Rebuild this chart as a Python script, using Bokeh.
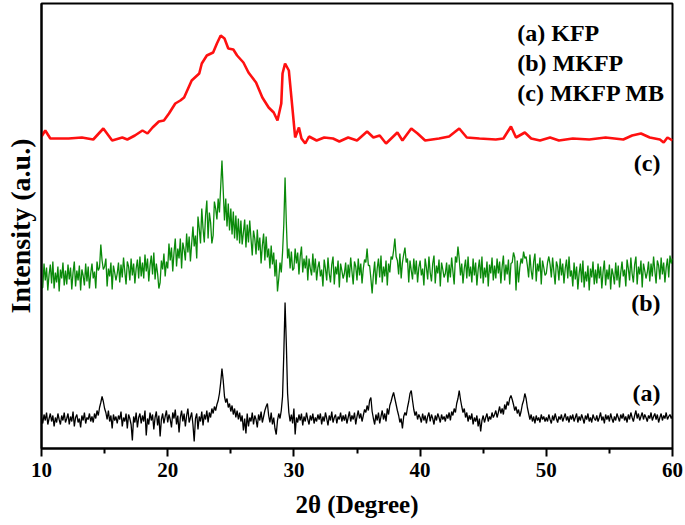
import numpy as np
from bokeh.plotting import figure
from bokeh.models import Range1d, FixedTicker, Label
from bokeh.embed import file_html
from bokeh.resources import INLINE

# ---------------- data ----------------
# noisy scans (a) KFP and (b) MKFP, one value every 0.1 degree from 10 to 60
scan_start = 10.0
scan_step = 0.1

kfp = [
    31, 25, 34, 28, 36, 24, 30, 35, 27, 33, 22, 31, 26, 35, 29, 24, 33, 28, 36, 26,
    30, 35, 24, 32, 27, 37, 22, 31, 34, 26, 30, 21, 33, 28, 36, 25, 31, 29, 35, 27,
    32, 26, 35, 30, 38, 33, 41, 46, 52, 47, 40, 36, 29, 38, 27, 33, 20, 34, 28, 32,
    25, 33, 29, 37, 22, 31, 27, 35, 20, 34, 30, 24, 8, 32, 26, 36, 21, 31, 35, 25,
    33, 27, 38, 13, 30, 24, 36, 28, 34, 19, 31, 37, 23, 33, 12, 29, 35, 25, 32, 38,
    26, 34, 29, 21, 36, 30, 39, 24, 33, 16, 31, 38, 27, 35, 22, 33, 40, 26, 31, 36,
    24, 7, 30, 35, 19, 32, 27, 37, 23, 34, 29, 38, 26, 36, 31, 40, 35, 42, 38, 44,
    48, 55, 66, 80, 68, 52, 46, 50, 41, 45, 37, 43, 34, 40, 31, 38, 29, 36, 27, 33,
    18, 30, 15, 35, 22, 31, 27, 36, 24, 33, 29, 21, 34, 28, 37, 26, 32, 38, 42, 45,
    33, 26, 36, 24, 31, 20, 14, 28, 35, 30, 38, 52, 95, 146, 105, 55, 36, 27, 34, 25,
    40, 14, 31, 26, 34, 28, 35, 23, 32, 27, 36, 29, 24, 33, 28, 35, 25, 31, 27, 34,
    29, 35, 24, 32, 27, 36, 30, 23, 33, 28, 37, 26, 31, 34, 25, 32, 29, 36, 27, 33,
    28, 34, 25, 31, 37, 27, 33, 29, 36, 24, 32, 38, 30, 35, 27, 33, 39, 36, 43, 38,
    48, 51, 37, 30, 24, 34, 28, 36, 25, 32, 38, 29, 35, 27, 40, 34, 43, 47, 52, 56,
    50, 44, 38, 33, 26, 30, 20, 32, 36, 33, 41, 47, 55, 58, 48, 39, 33, 37, 29, 34,
    31, 26, 35, 28, 33, 25, 32, 36, 27, 34, 30, 24, 33, 28, 35, 31, 26, 34, 29, 32,
    27, 34, 30, 36, 28, 37, 33, 40, 36, 45, 50, 58, 49, 42, 36, 40, 31, 36, 27, 33,
    29, 35, 24, 31, 27, 33, 22, 30, 17, 28, 33, 26, 31, 35, 27, 32, 29, 36, 31, 34,
    38, 31, 36, 42, 35, 40, 34, 44, 39, 47, 43, 50, 53, 49, 44, 38, 42, 35, 39, 32,
    37, 44, 48, 55, 50, 41, 35, 29, 34, 27, 32, 25, 33, 28, 31, 26, 34, 29, 32, 27,
    31, 27, 34, 29, 25, 33, 28, 35, 30, 26, 32, 29, 34, 27, 31, 35, 28, 32, 26, 33,
    29, 34, 27, 31, 35, 26, 32, 28, 34, 30, 25, 33, 29, 35, 27, 31, 26, 34, 30, 28,
    33, 27, 31, 36, 28, 32, 25, 34, 29, 33, 27, 35, 30, 26, 32, 28, 35, 31, 27, 34,
    30, 35, 28, 32, 26, 34, 29, 36, 31, 27, 33, 38, 30, 35, 28, 32, 36, 29, 34, 31,
    27, 33, 30, 36, 28, 32, 35, 29, 34, 26, 31, 35, 28, 33, 30, 36, 29, 32, 34, 30,
    33,
]

mkfp = [
    160, 161, 185, 168, 181, 158, 174, 184, 165, 187, 160, 176, 166, 182, 157, 179, 170, 186, 163, 178,
    164, 184, 169, 181, 159, 176, 187, 162, 178, 168, 183, 158, 179, 173, 163, 185, 167, 182, 160, 175,
    185, 170, 177, 160, 187, 178, 181, 204, 188, 179, 182, 190, 162, 180, 172, 186, 159, 183, 176, 168,
    175, 186, 166, 184, 171, 191, 177, 164, 187, 182, 168, 190, 173, 185, 165, 180, 189, 170, 192, 172,
    186, 170, 194, 177, 190, 167, 183, 193, 174, 196, 169, 185, 175, 160, 166, 188, 179, 195, 172, 187,
    180, 205, 188, 201, 177, 196, 210, 182, 200, 190, 210, 180, 206, 199, 188, 215, 196, 212, 187, 205,
    222, 202, 213, 190, 232, 220, 205, 240, 220, 206, 233, 248, 210, 236, 226, 205, 213, 247, 240, 229,
    250, 236, 262, 288, 258, 228, 250, 222, 245, 218, 240, 214, 237, 210, 233, 208, 230, 205, 228, 204,
    216, 229, 201, 224, 206, 228, 210, 193, 218, 210, 194, 219, 198, 211, 185, 203, 215, 188, 212, 191,
    200, 180, 203, 184, 196, 172, 189, 157, 170, 186, 176, 196, 224, 271, 226, 190, 200, 180, 197, 178,
    180, 200, 185, 196, 174, 192, 202, 176, 190, 180, 193, 168, 190, 180, 173, 195, 176, 190, 168, 181,
    187, 172, 179, 162, 189, 180, 168, 191, 175, 166, 184, 192, 164, 182, 174, 188, 161, 185, 178, 170,
    175, 186, 166, 184, 171, 191, 177, 164, 187, 182, 168, 190, 173, 185, 165, 180, 189, 186, 200, 183,
    183, 170, 155, 174, 187, 164, 180, 190, 171, 193, 166, 182, 172, 188, 163, 185, 176, 192, 189, 198,
    210, 192, 188, 174, 195, 170, 186, 194, 201, 186, 190, 166, 188, 178, 169, 190, 174, 188, 166, 181,
    188, 173, 180, 163, 190, 181, 169, 192, 176, 167, 185, 193, 165, 183, 175, 189, 162, 186, 179, 171,
    175, 186, 166, 184, 171, 191, 177, 164, 192, 186, 202, 190, 173, 185, 165, 180, 189, 170, 192, 172,
    182, 166, 190, 173, 186, 163, 179, 189, 170, 192, 165, 181, 171, 187, 162, 184, 175, 191, 168, 183,
    170, 190, 175, 187, 165, 182, 193, 168, 184, 174, 189, 164, 185, 186, 196, 191, 158, 188, 166, 181,
    190, 185, 197, 190, 192, 183, 171, 194, 178, 169, 187, 195, 167, 185, 177, 191, 164, 188, 181, 173,
    175, 186, 192, 184, 171, 191, 177, 164, 187, 182, 168, 190, 173, 185, 165, 180, 189, 170, 192, 172,
    178, 162, 186, 169, 182, 159, 175, 185, 166, 188, 161, 177, 167, 183, 158, 180, 171, 187, 164, 179,
    165, 185, 170, 182, 160, 177, 188, 163, 179, 169, 184, 159, 180, 174, 164, 186, 168, 183, 161, 176,
    187, 172, 179, 162, 189, 180, 168, 191, 175, 166, 184, 192, 164, 182, 174, 188, 161, 185, 178, 170,
    176, 187, 167, 185, 172, 192, 178, 165, 188, 183, 169, 191, 174, 186, 166, 181, 190, 171, 193, 185,
    190,
]

# smoothed scan (c) MKFP MB
mkfp_mb_x = [
    10.0, 10.3, 10.7, 12.15, 13.2, 14.1, 14.9, 15.6, 16.4, 16.8, 17.4, 18.0,
    18.4, 18.8, 19.3, 19.7, 20.1, 20.6, 21.0, 21.3, 21.9, 22.5, 22.7, 23.1,
    23.6, 23.9, 24.2, 24.5, 24.8, 25.2, 25.5, 26.0, 26.4, 27.0, 27.5, 28.0,
    28.4, 28.7, 29.0, 29.1, 29.3, 29.6, 29.9, 30.1, 30.4, 30.6, 30.9, 31.2,
    31.8, 32.4, 33.1, 33.6, 34.3, 35.0, 35.8, 36.3, 36.8, 37.3, 38.2, 38.6,
    39.3, 39.8, 40.4, 41.5, 42.3, 43.1, 43.7, 44.7, 46.0, 46.6, 47.2, 47.6,
    48.3, 48.8, 49.5, 50.3, 51.0, 52.1, 53.4, 54.7, 56.1, 56.8, 57.5, 58.2,
    59.0, 59.3, 59.6, 60.0,
]
mkfp_mb_y = [
    312, 318, 310, 310, 311, 309, 320, 308, 311, 309, 313, 318,
    315, 321, 327, 328, 335, 345, 348, 351, 368, 375, 385, 393,
    396, 405, 413, 410, 400, 399, 393, 386, 376, 366, 351, 341,
    336, 328, 345, 375, 385, 378, 338, 311, 321, 310, 305, 312,
    308, 311, 310, 307, 311, 308, 317, 311, 313, 305, 316, 308,
    320, 315, 308, 310, 312, 320, 311, 310, 309, 310, 322, 311,
    316, 310, 308, 311, 308, 310, 309, 311, 309, 313, 315, 311,
    309, 306, 311, 308,
]

x_major_ticks = [10, 20, 30, 40, 50, 60]
x_minor_ticks = [15, 25, 35, 45, 55]
legend_lines = ["(a) KFP", "(b) MKFP", "(c) MKFP MB"]
trace_tags = ["(a)", "(b)", "(c)"]

scan_x = scan_start + scan_step * np.arange(len(kfp))

# ---------------- figure ----------------
FONT = "Liberation Serif"

p = figure(width=685, height=525, output_backend="svg", toolbar_location=None,
           x_range=Range1d(10, 60), y_range=Range1d(0, 445),
           min_border_left=41, min_border_right=13, min_border_top=3,
           min_border_bottom=77)
p.background_fill_color = "white"
p.border_fill_color = "white"
p.outline_line_color = "black"
p.outline_line_width = 2
p.xgrid.visible = False
p.ygrid.visible = False

p.line(scan_x, kfp, line_color="black", line_width=1.3)
p.line(scan_x, mkfp, line_color="#0a8a0a", line_width=1.3)
p.line(mkfp_mb_x, mkfp_mb_y, line_color="#ff1010", line_width=2.6)

# x axis
xa = p.xaxis[0]
xa.ticker = FixedTicker(ticks=x_major_ticks, minor_ticks=x_minor_ticks)
xa.axis_line_width = 2
xa.major_tick_line_width = 2
xa.minor_tick_line_width = 2
xa.major_tick_in = 0
xa.major_tick_out = 8
xa.minor_tick_in = 0
xa.minor_tick_out = 5
xa.major_label_text_font = FONT
xa.major_label_text_font_style = "bold"
xa.major_label_text_font_size = "21px"
xa.major_label_text_color = "black"
xa.major_label_standoff = 6
xa.axis_label = "2θ (Degree)"
xa.axis_label_text_font = FONT
xa.axis_label_text_font_style = "bold"
xa.axis_label_text_font_size = "25px"
xa.axis_label_text_color = "black"
xa.axis_label_standoff = 11

# y axis
ya = p.yaxis[0]
ya.ticker = FixedTicker(ticks=[])
ya.axis_line_width = 2
ya.major_tick_line_color = None
ya.minor_tick_line_color = None
ya.major_label_text_font_size = "0px"
ya.axis_label = "Intensity (a.u.)"
ya.axis_label_text_font = FONT
ya.axis_label_text_font_style = "bold"
ya.axis_label_text_font_size = "28px"
ya.axis_label_text_color = "black"
ya.axis_label_standoff = 6

# legend text (top right)
for i, txt in enumerate(legend_lines):
    p.add_layout(Label(x=47.7, y=416 - 30 * i, text=txt, text_font=FONT,
                       text_font_style="bold", text_font_size="24px",
                       text_color="black", text_align="left",
                       text_baseline="middle"))

# trace tags
for txt, yy in zip(trace_tags, [56, 146, 286]):
    p.add_layout(Label(x=59.05, y=yy, text=txt, text_font=FONT,
                       text_font_style="bold", text_font_size="24px",
                       text_color="black", text_align="right",
                       text_baseline="middle"))

open("out.html", "w").write(file_html(p, INLINE))
